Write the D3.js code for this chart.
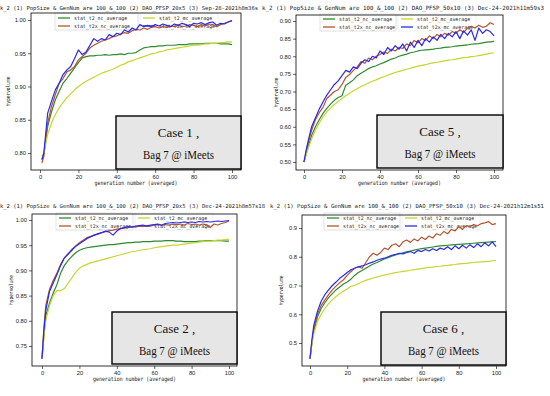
<!DOCTYPE html>
<html lang="en">
<head>
<meta charset="UTF-8">
<title>Hypervolume by generation</title>
<script src="https://cdnjs.cloudflare.com/ajax/libs/d3/7.8.5/d3.min.js"></script>
<style>
  body { margin: 0; background: #fff; }
  svg { display: block; }
  .tick text { font-family: "Liberation Sans", sans-serif; font-size: 5.8px; fill: #222; }
  .tick line { stroke: #000; stroke-width: 0.6; }
  .mono { font-family: "DejaVu Sans Mono", monospace; fill: #222; }
  .caseText { font-family: "Liberation Serif", serif; font-size: 13px; fill: #111; }
</style>
</head>
<body>
<svg id="chart" width="550" height="396"></svg>
<script>
    // generation numbers (case 1 starts at gen 1)
    const gensC1 = [1, 2, 4, 6, 8, 10, 12, 14, 16, 18, 20, 22, 24, 26, 28, 30, 32, 34, 36, 38,
        40, 42, 44, 46, 48, 50, 52, 54, 56, 58, 60, 62, 64, 66, 68, 70, 72, 74, 76, 78,
        80, 82, 84, 86, 88, 90, 92, 94, 96, 98, 100];
    const gens = [0, 1, 2, 4, 6, 8, 10, 12, 14, 16, 18, 20, 22, 24, 26, 28, 30, 32, 34, 36,
        38, 40, 42, 44, 46, 48, 50, 52, 54, 56, 58, 60, 62, 64, 66, 68, 70, 72, 74, 76,
        78, 80, 82, 84, 86, 88, 90, 92, 94, 96, 98, 100];

    const seriesNames = ["stat_t2_nc_average", "stat_t2x_nc_average", "stat_t2_mc_average", "stat_t2x_mc_average"];
    const seriesColors = ["#2f8a2f", "#b4552f", "#c5d62e", "#2a2ae8"];

    const xTicks = [0, 20, 40, 60, 80, 100];
    const yTicksC1 = [0.80, 0.85, 0.90, 0.95, 1.00];
    const yTicksC5 = [0.50, 0.55, 0.60, 0.65, 0.70, 0.75, 0.80, 0.85, 0.90];
    const yTicksC2 = [0.75, 0.80, 0.85, 0.90, 0.95, 1.00];
    const yTicksC6 = [0.5, 0.6, 0.7, 0.8, 0.9];

    // Case 1
    const c1_t2_nc = [0.790, 0.800, 0.840, 0.862, 0.880, 0.893, 0.905, 0.912, 0.920, 0.928,
        0.936, 0.943, 0.945, 0.946, 0.946, 0.947, 0.947, 0.948, 0.947, 0.948,
        0.948, 0.949, 0.948, 0.950, 0.950, 0.951, 0.955, 0.958, 0.959, 0.960,
        0.960, 0.961, 0.961, 0.962, 0.962, 0.962, 0.963, 0.963, 0.963, 0.964,
        0.964, 0.964, 0.964, 0.965, 0.965, 0.965, 0.965, 0.964, 0.964, 0.964,
        0.963];
    const c1_t2x_nc = [0.785, 0.795, 0.845, 0.870, 0.888, 0.905, 0.912, 0.922, 0.925, 0.930,
        0.940, 0.945, 0.950, 0.958, 0.962, 0.965, 0.968, 0.970, 0.972, 0.975,
        0.976, 0.979, 0.981, 0.980, 0.984, 0.986, 0.985, 0.988, 0.986, 0.989,
        0.990, 0.988, 0.990, 0.989, 0.991, 0.990, 0.992, 0.990, 0.991, 0.993,
        0.992, 0.990, 0.993, 0.991, 0.994, 0.993, 0.990, 0.993, 0.995, 0.997,
        0.999];
    const c1_t2_mc = [0.795, 0.800, 0.828, 0.845, 0.858, 0.868, 0.876, 0.883, 0.889, 0.895,
        0.900, 0.904, 0.908, 0.911, 0.914, 0.917, 0.920, 0.922, 0.924, 0.926,
        0.929, 0.932, 0.934, 0.937, 0.939, 0.941, 0.943, 0.945, 0.947, 0.949,
        0.950, 0.952, 0.953, 0.955, 0.956, 0.957, 0.958, 0.959, 0.960, 0.961,
        0.962, 0.962, 0.963, 0.964, 0.964, 0.965, 0.965, 0.966, 0.966, 0.967,
        0.967];
    const c1_t2x_mc = [0.790, 0.800, 0.860, 0.878, 0.895, 0.905, 0.918, 0.925, 0.930, 0.942,
        0.955, 0.948, 0.952, 0.962, 0.972, 0.968, 0.972, 0.970, 0.978, 0.975,
        0.980, 0.978, 0.985, 0.982, 0.988, 0.985, 0.993, 0.990, 0.992, 0.990,
        0.993, 0.991, 0.994, 0.992, 0.990, 0.994, 0.992, 0.995, 0.993, 0.990,
        0.995, 0.994, 0.996, 0.993, 0.996, 0.997, 0.992, 0.995, 0.994, 0.997,
        0.999];

    // Case 5
    const c5_t2_nc = [0.500, 0.520, 0.540, 0.575, 0.600, 0.620, 0.638, 0.652, 0.664, 0.675,
        0.683, 0.688, 0.718, 0.725, 0.733, 0.745, 0.752, 0.758, 0.765, 0.770,
        0.773, 0.778, 0.782, 0.787, 0.792, 0.795, 0.800, 0.803, 0.806, 0.810,
        0.812, 0.815, 0.817, 0.818, 0.819, 0.820, 0.822, 0.823, 0.825, 0.826,
        0.827, 0.829, 0.830, 0.831, 0.832, 0.834, 0.835, 0.836, 0.838, 0.840,
        0.841, 0.842];
    const c5_t2x_nc = [0.500, 0.525, 0.550, 0.590, 0.620, 0.640, 0.655, 0.680, 0.690, 0.700,
        0.705, 0.720, 0.740, 0.748, 0.760, 0.770, 0.785, 0.780, 0.795, 0.790,
        0.800, 0.805, 0.812, 0.808, 0.820, 0.815, 0.825, 0.822, 0.835, 0.830,
        0.845, 0.838, 0.850, 0.845, 0.858, 0.850, 0.862, 0.855, 0.865, 0.860,
        0.870, 0.865, 0.875, 0.868, 0.880, 0.885, 0.880, 0.888, 0.882, 0.885,
        0.895, 0.890];
    const c5_t2_mc = [0.500, 0.518, 0.535, 0.565, 0.590, 0.610, 0.628, 0.642, 0.653, 0.663,
        0.672, 0.680, 0.688, 0.695, 0.702, 0.708, 0.714, 0.719, 0.724, 0.729,
        0.733, 0.738, 0.742, 0.746, 0.750, 0.754, 0.757, 0.760, 0.763, 0.766,
        0.769, 0.772, 0.774, 0.776, 0.779, 0.781, 0.783, 0.785, 0.787, 0.789,
        0.790, 0.792, 0.794, 0.796, 0.797, 0.799, 0.800, 0.802, 0.804, 0.806,
        0.808, 0.810];
    const c5_t2x_mc = [0.500, 0.530, 0.555, 0.600, 0.625, 0.650, 0.670, 0.690, 0.705, 0.720,
        0.730, 0.745, 0.760, 0.755, 0.770, 0.765, 0.780, 0.790, 0.785, 0.800,
        0.795, 0.815, 0.805, 0.825, 0.815, 0.830, 0.820, 0.835, 0.815, 0.840,
        0.825, 0.845, 0.830, 0.850, 0.840, 0.855, 0.845, 0.862, 0.850, 0.865,
        0.855, 0.870, 0.850, 0.872, 0.860, 0.875, 0.845, 0.880, 0.865, 0.875,
        0.870, 0.858];

    // Case 2
    const c2_t2_nc = [0.725, 0.770, 0.810, 0.835, 0.855, 0.872, 0.895, 0.910, 0.920, 0.928,
        0.935, 0.940, 0.943, 0.945, 0.946, 0.947, 0.948, 0.949, 0.950, 0.951,
        0.951, 0.952, 0.953, 0.954, 0.955, 0.955, 0.956, 0.956, 0.957, 0.957,
        0.957, 0.958, 0.958, 0.958, 0.959, 0.959, 0.959, 0.958, 0.958, 0.957,
        0.957, 0.957, 0.957, 0.958, 0.958, 0.959, 0.959, 0.959, 0.959, 0.959,
        0.958, 0.958];
    const c2_t2x_nc = [0.725, 0.785, 0.830, 0.862, 0.880, 0.895, 0.912, 0.925, 0.932, 0.942,
        0.948, 0.955, 0.960, 0.965, 0.967, 0.970, 0.972, 0.975, 0.977, 0.979,
        0.980, 0.982, 0.983, 0.984, 0.985, 0.987, 0.986, 0.988, 0.987, 0.989,
        0.988, 0.990, 0.991, 0.989, 0.991, 0.990, 0.992, 0.991, 0.992, 0.990,
        0.993, 0.991, 0.992, 0.990, 0.992, 0.991, 0.985, 0.992, 0.990, 0.993,
        0.995, 0.998];
    const c2_t2_mc = [0.725, 0.765, 0.800, 0.830, 0.850, 0.860, 0.860, 0.864, 0.875, 0.885,
        0.896, 0.904, 0.909, 0.912, 0.915, 0.917, 0.919, 0.921, 0.923, 0.925,
        0.927, 0.929, 0.931, 0.933, 0.935, 0.937, 0.938, 0.940, 0.941, 0.942,
        0.943, 0.945, 0.946, 0.947, 0.948, 0.949, 0.950, 0.950, 0.951, 0.952,
        0.953, 0.954, 0.955, 0.956, 0.957, 0.958, 0.958, 0.959, 0.960, 0.960,
        0.961, 0.962];
    const c2_t2x_mc = [0.725, 0.780, 0.820, 0.858, 0.875, 0.892, 0.910, 0.925, 0.933, 0.940,
        0.948, 0.953, 0.958, 0.963, 0.967, 0.970, 0.973, 0.975, 0.978, 0.976,
        0.970, 0.978, 0.983, 0.985, 0.987, 0.986, 0.988, 0.989, 0.990, 0.988,
        0.990, 0.991, 0.992, 0.990, 0.993, 0.994, 0.995, 0.994, 0.995, 0.996,
        0.995, 0.996, 0.995, 0.997, 0.996, 0.997, 0.996, 0.997, 0.998, 0.997,
        0.998, 0.999];

    // Case 6
    const c6_t2_nc = [0.445, 0.500, 0.540, 0.590, 0.620, 0.640, 0.658, 0.672, 0.685, 0.695,
        0.705, 0.712, 0.722, 0.735, 0.745, 0.752, 0.760, 0.768, 0.775, 0.780,
        0.786, 0.792, 0.797, 0.802, 0.806, 0.810, 0.814, 0.817, 0.820, 0.823,
        0.826, 0.828, 0.830, 0.832, 0.834, 0.836, 0.838, 0.839, 0.840, 0.841,
        0.842, 0.843, 0.844, 0.845, 0.846, 0.847, 0.848, 0.849, 0.850, 0.851,
        0.852, 0.853];
    const c6_t2x_nc = [0.445, 0.500, 0.545, 0.600, 0.630, 0.650, 0.668, 0.685, 0.698, 0.710,
        0.720, 0.735, 0.748, 0.760, 0.765, 0.760, 0.780, 0.800, 0.812, 0.805,
        0.815, 0.830, 0.825, 0.840, 0.845, 0.835, 0.852, 0.858, 0.850, 0.862,
        0.855, 0.868, 0.860, 0.872, 0.865, 0.880, 0.875, 0.888, 0.880, 0.895,
        0.890, 0.905, 0.895, 0.908, 0.905, 0.912, 0.908, 0.915, 0.918, 0.922,
        0.912, 0.915];
    const c6_t2_mc = [0.445, 0.495, 0.530, 0.575, 0.600, 0.620, 0.637, 0.650, 0.662, 0.672,
        0.680, 0.688, 0.697, 0.700, 0.707, 0.713, 0.718, 0.722, 0.726, 0.730,
        0.733, 0.736, 0.739, 0.742, 0.745, 0.747, 0.749, 0.751, 0.753, 0.755,
        0.757, 0.759, 0.761, 0.763, 0.764, 0.766, 0.767, 0.769, 0.770, 0.772,
        0.773, 0.775, 0.776, 0.777, 0.779, 0.780, 0.781, 0.782, 0.783, 0.784,
        0.786, 0.787];
    const c6_t2x_mc = [0.445, 0.510, 0.560, 0.610, 0.645, 0.668, 0.685, 0.700, 0.712, 0.725,
        0.735, 0.745, 0.755, 0.760, 0.765, 0.768, 0.772, 0.778, 0.782, 0.788,
        0.792, 0.795, 0.800, 0.805, 0.808, 0.812, 0.810, 0.815, 0.818, 0.812,
        0.822, 0.818, 0.825, 0.820, 0.828, 0.822, 0.830, 0.825, 0.835, 0.825,
        0.838, 0.828, 0.840, 0.830, 0.842, 0.832, 0.845, 0.835, 0.848, 0.838,
        0.852, 0.835];

    const titles = [
        "k_2 (1) PopSize & GenNum are 100_&_100 (2) DAO_PFSP_20x5 (3) Sep-28-2021h8m36s",
        "k_2 (1) PopSize & GenNum are 100_&_100 (2) DAO_PFSP_50x10 (3) Dec-24-2021h11m59s3",
        "k_2 (1) PopSize & GenNum are 100_&_100 (2) DAO_PFSP_20x5 (3) Dec-24-2021h8m57s18",
        "k_2 (1) PopSize & GenNum are 100_&_100 (2) DAO_PFSP_50x10 (3) Dec-24-2021h12m1s51"
    ];
    const caseLabels = ["Case 1 ,", "Case 5 ,", "Case 2 ,", "Case 6 ,"];

    // layout of the four panels (pixels)
    const panels = [
        { gens: gensC1, series: [c1_t2_nc, c1_t2x_nc, c1_t2_mc, c1_t2x_mc], yTicks: yTicksC1, yFmt: ".2f",
          frame: [31, 241, 13, 170], xPx: [40, 232], yDom: [0.80, 1.00], yPx: [153, 20],
          title: { x: 0, y: 10, w: 258 }, legend: { x: 58, y: 18, c2: 143 },
          box: [116, 116, 125, 53], yLabelX: 10 },
        { gens: gens, series: [c5_t2_nc, c5_t2x_nc, c5_t2_mc, c5_t2x_mc], yTicks: yTicksC5, yFmt: ".2f",
          frame: [296, 503, 15, 170], xPx: [304, 494], yDom: [0.50, 0.90], yPx: [162, 21],
          title: { x: 262, y: 10, w: 282 }, legend: { x: 323, y: 19, c2: 401 },
          box: [377, 115, 126, 53], yLabelX: 278 },
        { gens: gens, series: [c2_t2_nc, c2_t2x_nc, c2_t2_mc, c2_t2x_mc], yTicks: yTicksC2, yFmt: ".2f",
          frame: [32, 237, 214, 366], xPx: [42, 229], yDom: [0.75, 1.00], yPx: [346, 220],
          title: { x: 0, y: 208, w: 265 }, legend: { x: 59, y: 218, c2: 138 },
          box: [112, 312, 125, 52], yLabelX: 13 },
        { gens: gens, series: [c6_t2_nc, c6_t2x_nc, c6_t2_mc, c6_t2x_mc], yTicks: yTicksC6, yFmt: ".1f",
          frame: [302, 506, 215, 366], xPx: [310, 496], yDom: [0.5, 0.9], yPx: [343, 228],
          title: { x: 270, y: 208, w: 274 }, legend: { x: 327, y: 218, c2: 405 },
          box: [381, 312, 125, 53], yLabelX: 283 }
    ];

    const svg = d3.select("#chart");
    svg.append("rect").attr("width", 550).attr("height", 396).attr("fill", "#fff");

    panels.forEach((p, pi) => {
        const g = svg.append("g");
        const x = d3.scaleLinear().domain([0, 100]).range(p.xPx);
        const y = d3.scaleLinear().domain(p.yDom).range(p.yPx);
        const [fl, fr, ft, fb] = p.frame;

        // title: size the mono font so its natural width fits the given span
        const tSize = p.title.w / (titles[pi].length * 0.602);
        g.append("text").attr("class", "mono")
            .attr("x", p.title.x).attr("y", p.title.y)
            .attr("font-size", tSize.toFixed(2) + "px")
            .attr("textLength", p.title.w).attr("lengthAdjust", "spacingAndGlyphs")
            .text(titles[pi]);

        // legend: two columns, drawn under the lines
        const L = p.legend;
        const colX = [L.x, L.x, L.c2, L.c2];
        const rowY = [L.y, L.y + 8, L.y, L.y + 8];
        g.append("rect").attr("x", L.x - 3).attr("y", L.y - 5)
            .attr("width", L.c2 - 5 - (L.x - 3)).attr("height", 17)
            .attr("fill", "#fff").attr("stroke", "#ccc").attr("stroke-width", 0.6);
        g.append("rect").attr("x", L.c2 - 3).attr("y", L.y - 5)
            .attr("width", 78).attr("height", 17)
            .attr("fill", "#fff").attr("stroke", "#e4e4e4").attr("stroke-width", 0.6);
        seriesNames.forEach((name, k) => {
            g.append("line")
                .attr("x1", colX[k]).attr("x2", colX[k] + 12)
                .attr("y1", rowY[k]).attr("y2", rowY[k])
                .attr("stroke", seriesColors[k]).attr("stroke-width", 1.3);
            g.append("text").attr("class", "mono")
                .attr("x", colX[k] + 16).attr("y", rowY[k] + 2)
                .attr("font-size", "5.2px")
                .attr("textLength", name.length * 2.95).attr("lengthAdjust", "spacingAndGlyphs")
                .text(name);
        });

        // lines
        const line = d3.line()
            .x((d, i) => x(p.gens[i]))
            .y(d => y(d));
        p.series.forEach((s, k) => {
            g.append("path").datum(s)
                .attr("d", line)
                .attr("fill", "none")
                .attr("stroke", seriesColors[k])
                .attr("stroke-width", 1.2)
                .attr("stroke-linejoin", "round");
        });

        // frame
        g.append("rect").attr("x", fl).attr("y", ft)
            .attr("width", fr - fl).attr("height", fb - ft)
            .attr("fill", "none").attr("stroke", "#000").attr("stroke-width", 0.8);

        // axes
        g.append("g").attr("transform", `translate(0,${fb})`)
            .call(d3.axisBottom(x).tickValues(xTicks).tickSize(3).tickPadding(2).tickFormat(d3.format("d")))
            .call(a => a.select(".domain").remove());
        g.append("g").attr("transform", `translate(${fl},0)`)
            .call(d3.axisLeft(y).tickValues(p.yTicks).tickSize(3).tickPadding(2).tickFormat(d3.format(p.yFmt)))
            .call(a => a.select(".domain").remove());

        // axis labels
        g.append("text").attr("class", "mono")
            .attr("x", (fl + fr) / 2).attr("y", fb + 15)
            .attr("text-anchor", "middle").attr("font-size", "6px")
            .attr("textLength", 83).attr("lengthAdjust", "spacingAndGlyphs")
            .text("generation number (averaged)");
        g.append("text").attr("class", "mono")
            .attr("transform", `translate(${p.yLabelX},${(ft + fb) / 2}) rotate(-90)`)
            .attr("text-anchor", "middle").attr("font-size", "5.6px")
            .attr("textLength", 30).attr("lengthAdjust", "spacingAndGlyphs")
            .text("hypervolume");

        // case annotation box
        const [bx, by, bw, bh] = p.box;
        g.append("rect").attr("x", bx).attr("y", by).attr("width", bw).attr("height", bh)
            .attr("fill", "#e6e6e6").attr("stroke", "#000").attr("stroke-width", 1.4);
        g.append("text").attr("class", "caseText")
            .attr("x", bx + bw / 2).attr("y", by + 21).attr("text-anchor", "middle")
            .text(caseLabels[pi]);
        g.append("text").attr("class", "caseText")
            .attr("x", bx + bw / 2).attr("y", by + 43).attr("text-anchor", "middle")
            .attr("textLength", 71).attr("lengthAdjust", "spacingAndGlyphs")
            .text("Bag 7 @ iMeets");
    });
</script>
</body>
</html>
